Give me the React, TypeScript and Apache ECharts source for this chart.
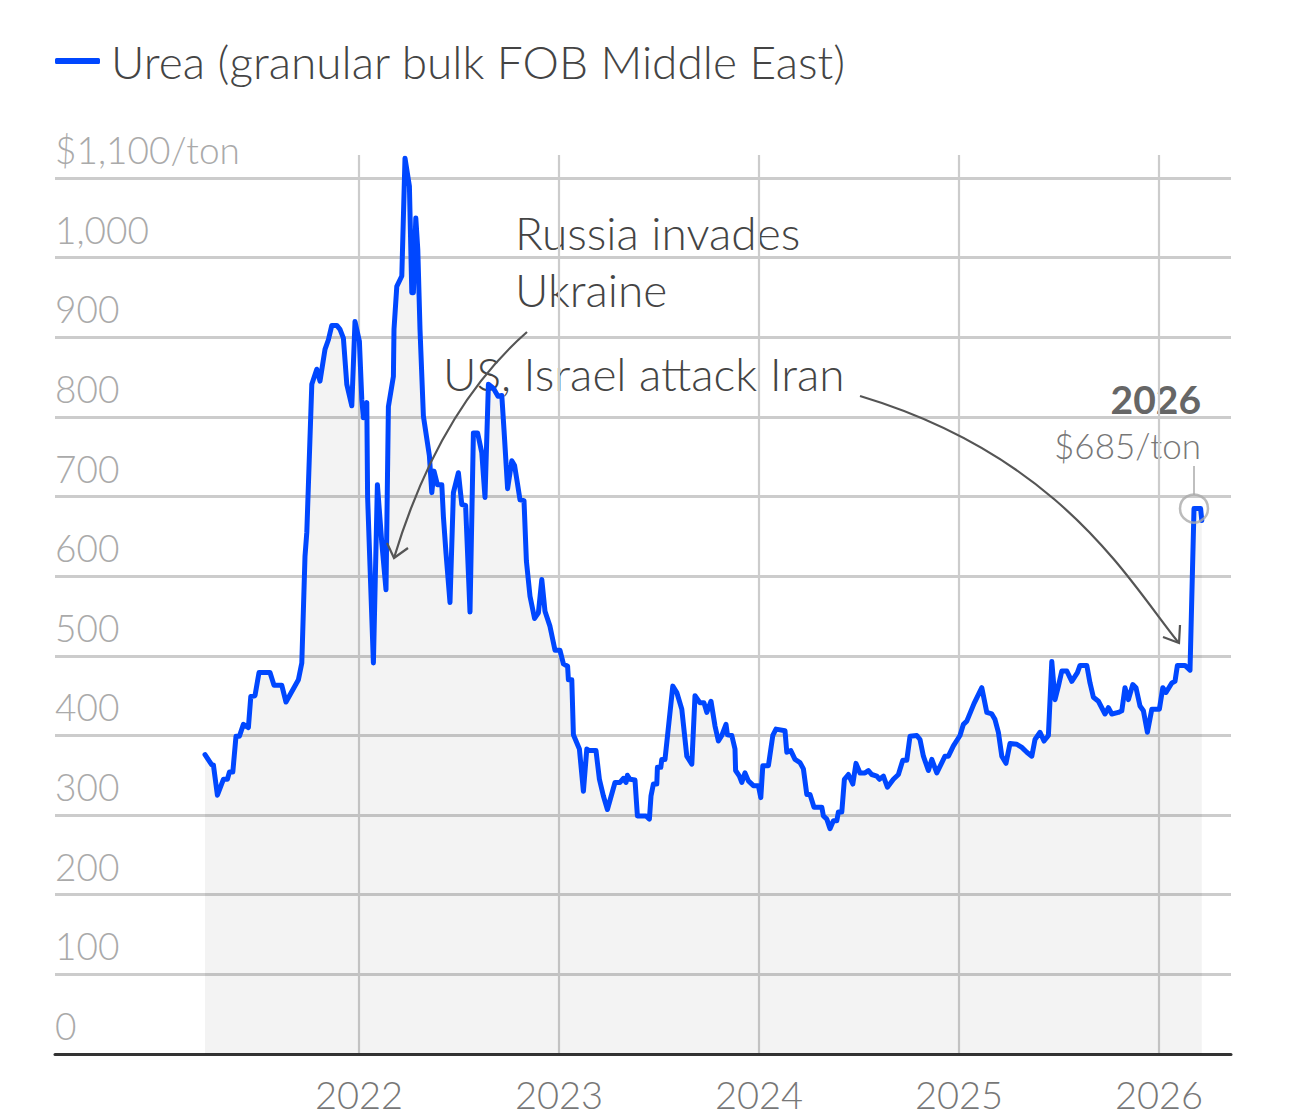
import React, { useEffect, useRef } from "react";
import * as echarts from "echarts";

// Decimal-year time stamps and prices ($/ton)
const t2021 = [2021.230, 2021.264, 2021.272, 2021.292, 2021.322, 2021.342, 2021.352, 2021.369, 2021.385, 2021.402, 2021.422, 2021.447, 2021.459, 2021.480, 2021.500, 2021.555, 2021.575, 2021.614, 2021.635, 2021.697, 2021.714, 2021.730, 2021.739, 2021.764, 2021.789, 2021.805, 2021.830, 2021.847, 2021.864, 2021.889, 2021.905, 2021.922, 2021.939, 2021.964, 2021.980];
const p2021 = [376, 363, 363, 325, 345, 345, 354, 354, 399, 399, 414, 410, 449, 450, 479, 479, 463, 463, 442, 470, 491, 625, 655, 841, 860, 845, 885, 897, 915, 915, 910, 899, 841, 814, 920];

const t2022 = [2022.002, 2022.014, 2022.022, 2022.039, 2022.043, 2022.055, 2022.072, 2022.092, 2022.114, 2022.135, 2022.147, 2022.172, 2022.175, 2022.189, 2022.214, 2022.230, 2022.252, 2022.264, 2022.272, 2022.284, 2022.294, 2022.305, 2022.322, 2022.352, 2022.364, 2022.375, 2022.392, 2022.414, 2022.422, 2022.435, 2022.455, 2022.472, 2022.497, 2022.514, 2022.533, 2022.555, 2022.572, 2022.593, 2022.614, 2022.630, 2022.647, 2022.672, 2022.695, 2022.714, 2022.725, 2022.743, 2022.764, 2022.778, 2022.792, 2022.805, 2022.825, 2022.837, 2022.855, 2022.878, 2022.897, 2022.914, 2022.930, 2022.955, 2022.980];
const p2022 = [895, 822, 799, 818, 700, 613, 491, 715, 642, 583, 813, 851, 910, 964, 977, 1125, 1090, 956, 956, 1050, 1010, 910, 801, 751, 705, 732, 715, 715, 675, 629, 567, 705, 730, 690, 689, 555, 780, 780, 755, 699, 841, 836, 826, 827, 784, 710, 745, 739, 717, 696, 695, 619, 575, 547, 554, 596, 556, 537, 507];

const t2023 = [2023.005, 2023.022, 2023.043, 2023.047, 2023.064, 2023.072, 2023.102, 2023.122, 2023.139, 2023.152, 2023.185, 2023.202, 2023.222, 2023.242, 2023.280, 2023.305, 2023.322, 2023.335, 2023.342, 2023.355, 2023.380, 2023.392, 2023.435, 2023.452, 2023.460, 2023.472, 2023.489, 2023.492, 2023.509, 2023.514, 2023.530, 2023.547, 2023.569, 2023.589, 2023.614, 2023.639, 2023.664, 2023.680, 2023.705, 2023.725, 2023.739, 2023.760, 2023.780, 2023.797, 2023.814, 2023.835, 2023.842, 2023.864, 2023.880, 2023.883, 2023.902, 2023.914, 2023.930, 2023.947, 2023.972, 2023.997];
const p2023 = [507, 490, 487, 470, 470, 401, 383, 330, 383, 381, 381, 345, 324, 307, 341, 341, 346, 341, 350, 345, 344, 299, 299, 295, 324, 339, 339, 360, 360, 370, 370, 410, 462, 454, 433, 374, 364, 450, 441, 441, 429, 443, 412, 393, 400, 414, 401, 400, 383, 356, 349, 341, 353, 343, 337, 337];

const t2024 = [2024.009, 2024.019, 2024.047, 2024.069, 2024.085, 2024.130, 2024.139, 2024.159, 2024.180, 2024.205, 2024.222, 2024.239, 2024.255, 2024.275, 2024.314, 2024.322, 2024.339, 2024.355, 2024.372, 2024.389, 2024.397, 2024.414, 2024.427, 2024.447, 2024.469, 2024.485, 2024.505, 2024.530, 2024.547, 2024.564, 2024.589, 2024.602, 2024.622, 2024.642, 2024.672, 2024.697, 2024.719, 2024.739, 2024.755, 2024.789, 2024.805, 2024.822, 2024.847, 2024.864, 2024.889, 2024.930, 2024.947, 2024.972];
const p2024 = [322, 362, 362, 400, 408, 406, 379, 381, 370, 366, 358, 326, 326, 310, 310, 299, 295, 283, 293, 293, 304, 304, 345, 351, 339, 365, 353, 353, 356, 351, 349, 345, 349, 335, 345, 351, 369, 369, 399, 400, 395, 374, 356, 370, 353, 374, 374, 387];

const t2025 = [2025.005, 2025.022, 2025.039, 2025.075, 2025.114, 2025.139, 2025.164, 2025.180, 2025.197, 2025.214, 2025.235, 2025.255, 2025.289, 2025.314, 2025.339, 2025.364, 2025.380, 2025.405, 2025.425, 2025.447, 2025.464, 2025.480, 2025.497, 2025.514, 2025.539, 2025.564, 2025.592, 2025.605, 2025.639, 2025.655, 2025.672, 2025.697, 2025.730, 2025.747, 2025.764, 2025.797, 2025.814, 2025.830, 2025.847, 2025.869, 2025.885, 2025.905, 2025.922, 2025.942, 2025.964];
const p2025 = [400, 414, 418, 440, 460, 429, 427, 420, 404, 374, 365, 390, 389, 385, 379, 374, 395, 404, 393, 400, 493, 445, 462, 481, 481, 468, 479, 488, 488, 466, 448, 443, 427, 435, 427, 429, 431, 460, 445, 464, 460, 437, 431, 404, 433];

const t2026 = [2026.002, 2026.019, 2026.035, 2026.064, 2026.080, 2026.092, 2026.130, 2026.155, 2026.175, 2026.208, 2026.214];
const p2026 = [433, 460, 454, 466, 468, 488, 488, 482, 685, 685, 670];

const latestPoint = [2026.175, 685];
const yearTicks = [2022, 2023, 2024, 2025, 2026];

const SERIES_NAME = "Urea (granular bulk FOB Middle East)";
const FONT = "Lato, 'Noto Sans', sans-serif";

function zip(t: number[], p: number[]) {
  return t.map((v, i) => [v, p[i]]);
}

export default function App() {
  const ref = useRef<HTMLDivElement>(null);

  useEffect(() => {
    if (!ref.current) return;
    const chart = echarts.init(ref.current, undefined, { renderer: "svg" });
    const data = [
      ...zip(t2021, p2021),
      ...zip(t2022, p2022),
      ...zip(t2023, p2023),
      ...zip(t2024, p2024),
      ...zip(t2025, p2025),
      ...zip(t2026, p2026),
    ];

    chart.setOption({
      animation: false,
      backgroundColor: "#ffffff",
      grid: { left: 55, right: 59, top: 155, bottom: 62 },
      legend: {
        show: true,
        data: [SERIES_NAME],
        left: 55,
        top: 35,
        padding: 0,
        icon: "roundRect",
        itemWidth: 45,
        itemHeight: 6,
        textStyle: {
          fontFamily: FONT,
          fontWeight: 300,
          fontSize: 46,
          color: "#444",
          lineHeight: 52,
          padding: [0, 0, 0, 6],
        },
      },
      xAxis: {
        type: "value",
        min: 2020.48,
        max: 2026.36,
        axisLine: { show: true, lineStyle: { color: "#333", width: 3 } },
        axisTick: { show: false, customValues: yearTicks },
        axisLabel: {
          customValues: yearTicks,
          formatter: (v: number) => String(Math.round(v)),
          fontFamily: FONT,
          fontWeight: 300,
          fontSize: 38,
          color: "#777",
          margin: 21,
        },
        splitLine: { show: true, lineStyle: { color: "#cccccc", width: 2.2 } },
      },
      yAxis: {
        type: "value",
        min: 0,
        max: 1129,
        interval: 100,
        axisLine: { show: false },
        axisTick: { show: false },
        axisLabel: {
          inside: true,
          margin: 0,
          showMaxLabel: false,
          verticalAlign: "bottom",
          padding: [0, 0, 10, 0],
          fontFamily: FONT,
          fontWeight: 300,
          fontSize: 37,
          color: "#aaa",
          formatter: (v: number) =>
            v > 1129 - 1 ? "" : v === 1100 ? "$1,100/ton" : v.toLocaleString("en-US"),
        },
        splitLine: {
          show: true,
          showMaxLine: false,
          showMinLine: false,
          lineStyle: { color: "#cccccc", width: 3 },
        },
      },
      series: [
        {
          name: SERIES_NAME,
          type: "line",
          data,
          showSymbol: false,
          symbol: "none",
          color: "#0047ff",
          lineStyle: { color: "#0047ff", width: 5, cap: "round", join: "round" },
          areaStyle: { color: "rgba(0,0,0,0.065)" },
          z: 3,
        },
        {
          name: "latest",
          type: "scatter",
          data: [latestPoint],
          symbol: "circle",
          symbolSize: 28,
          itemStyle: { color: "rgba(255,255,255,0)", borderColor: "#aaaaaa", borderWidth: 2.5 },
          z: 4,
          silent: true,
        },
      ],
      graphic: [
        {
          type: "text",
          x: 515,
          y: 204,
          style: {
            text: "Russia invades\nUkraine",
            fontFamily: FONT,
            fontWeight: 300,
            fontSize: 46,
            lineHeight: 57,
            fill: "#444",
            verticalAlign: "top",
          },
        },
        {
          type: "text",
          x: 443,
          y: 373,
          style: {
            text: "US, Israel attack Iran",
            fontFamily: FONT,
            fontWeight: 300,
            fontSize: 46,
            fill: "#444",
            verticalAlign: "middle",
          },
        },
        {
          type: "text",
          x: 1201,
          y: 399,
          style: {
            text: "2026",
            fontFamily: FONT,
            fontWeight: "bold",
            fontSize: 39,
            fill: "#666",
            align: "right",
            verticalAlign: "middle",
          },
        },
        {
          type: "text",
          x: 1201,
          y: 445,
          style: {
            text: "$685/ton",
            fontFamily: FONT,
            fontWeight: 300,
            fontSize: 35,
            fill: "#777",
            align: "right",
            verticalAlign: "middle",
          },
        },
        {
          type: "line",
          shape: { x1: 1194, y1: 466, x2: 1194, y2: 495 },
          style: { stroke: "#aaaaaa", lineWidth: 1.5 },
          z: 10,
        },
        {
          type: "bezierCurve",
          shape: { x1: 527, y1: 332, x2: 394, y2: 558, cpx1: 439, cpy1: 409 },
          style: { stroke: "#555", lineWidth: 2.2, fill: "none" },
          z: 10,
        },
        {
          type: "polyline",
          shape: { points: [[387, 543], [394, 558], [408, 548]] },
          style: { stroke: "#555", lineWidth: 2.2, fill: "none" },
          z: 10,
        },
        {
          type: "bezierCurve",
          shape: { x1: 860, y1: 396, x2: 1178, y2: 642, cpx1: 1060, cpy1: 456, cpx2: 1128, cpy2: 580 },
          style: { stroke: "#555", lineWidth: 2.2, fill: "none" },
          z: 10,
        },
        {
          type: "polyline",
          shape: { points: [[1163, 637], [1179, 643], [1180, 625]] },
          style: { stroke: "#555", lineWidth: 2.2, fill: "none" },
          z: 10,
        },
      ],
    });

    return () => chart.dispose();
  }, []);

  return (
    <div
      ref={ref}
      style={{ position: "fixed", left: 0, top: 0, width: 1290, height: 1116, background: "#fff" }}
    />
  );
}
